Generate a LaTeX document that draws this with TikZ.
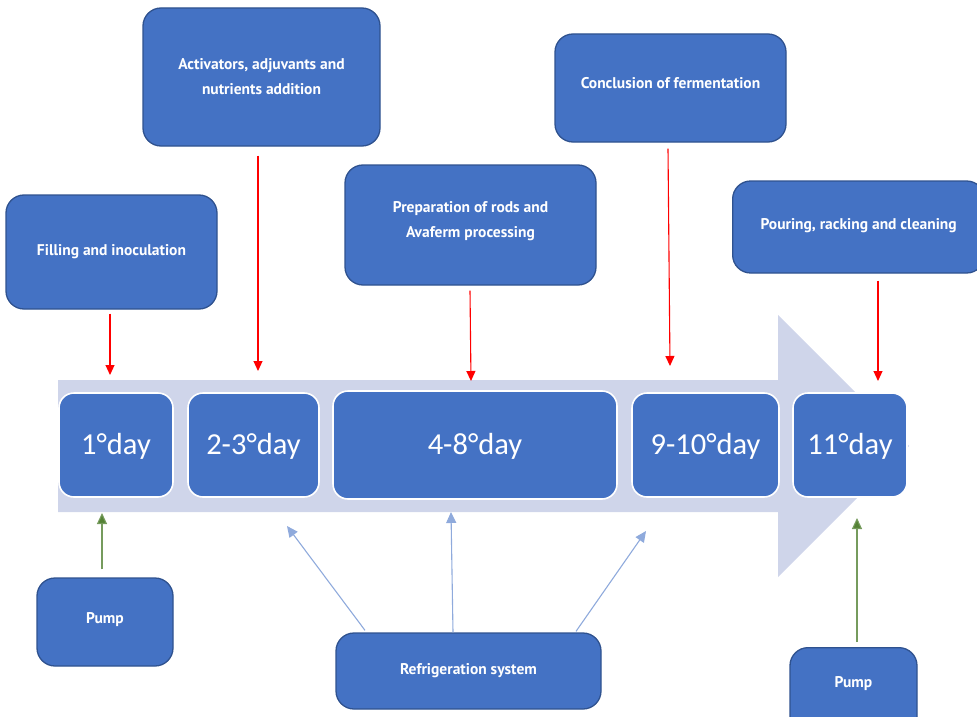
\documentclass[tikz,border=0pt]{standalone}
\usepackage{fontspec}
\setmainfont{PT Sans}
\newfontfamily\dayfont{Carlito}
\usetikzlibrary{arrows.meta,calc}

\definecolor{boxblue}{HTML}{4472C4}
\definecolor{boxedge}{HTML}{2F528F}
\definecolor{band}{HTML}{CFD5EA}
\definecolor{redline}{HTML}{FF0000}
\definecolor{greenline}{HTML}{548235}
\definecolor{blueline}{HTML}{8FAADC}

\tikzset{
  x=1pt, y=-1pt,
  taskbox/.style={draw=boxedge, line width=1.3pt, fill=boxblue, rounded corners=18pt,
    text=white, font=\bfseries\fontsize{15.5}{25}\selectfont, align=center, inner sep=0pt},
  daybox/.style={draw=white, line width=1.6pt, fill=boxblue, rounded corners=15pt,
    text=white, font=\dayfont\fontsize{30.5}{34}\selectfont, inner sep=0pt,
    text height=19.6pt, text depth=0pt},
  redarrow/.style={draw=redline, line width=1.1pt, -{Triangle[width=9pt,length=10pt]}},
  greenarrow/.style={draw=greenline!80, line width=1.1pt, -{Triangle[width=10pt,length=11pt,fill=greenline]}},
  bluearrow/.style={draw=blueline, line width=1.1pt, -{Triangle[width=10pt,length=11pt]}},
}

\begin{document}
\begin{tikzpicture}
\useasboundingbox (0,0) rectangle (977,717);

% timeline band with arrow head
\fill[band] (58,380) -- (778,380) -- (778,315) -- (909,446) -- (778,577)
  -- (778,512) -- (58,512) -- cycle;

% day boxes
\node[daybox, minimum width=114pt, minimum height=104pt] (d1)  at (116,445) {1°day};
\node[daybox, minimum width=131pt, minimum height=104pt] (d2)  at (253.5,445) {2-3°day};
\node[daybox, minimum width=284pt, minimum height=108pt] (d4)  at (475,445) {4-8°day};
\node[daybox, minimum width=147pt, minimum height=104pt] (d9)  at (705.5,445) {9-10°day};
\node[daybox, minimum width=114pt, minimum height=104pt] (d11) at (850,445) {11°day};

% activity boxes above the timeline
\node[taskbox, minimum width=211pt, minimum height=114pt] (fill) at (111.5,252)
  {\raisebox{4pt}{Filling and inoculation}};
\node[taskbox, minimum width=237pt, minimum height=138pt] (act) at (261.5,77)
  {Activators, adjuvants and\\nutrients addition};
\node[taskbox, minimum width=251pt, minimum height=120pt] (prep) at (470.5,225)
  {\raisebox{32pt}{\begin{tabular}{@{}c@{}}Preparation of rods and\\Avaferm processing\end{tabular}}};
\node[taskbox, minimum width=231pt, minimum height=108pt] (concl) at (670.5,88)
  {\raisebox{10pt}{Conclusion of fermentation}};
\node[taskbox, minimum width=252pt, minimum height=92pt, anchor=west] (pour) at (732,227)
  {\raisebox{7pt}{Pouring, racking and cleaning}};

% equipment boxes below the timeline
\node[taskbox, minimum width=136pt, minimum height=88pt] (pump1) at (105,622)
  {\raisebox{9pt}{Pump}};
\node[taskbox, minimum width=265pt, minimum height=76pt] (refr) at (468.5,671)
  {Refrigeration system};
\node[taskbox, minimum width=127pt, minimum height=90pt, anchor=north] (pump2) at (853.5,647)
  {\raisebox{21pt}{Pump}};

% arrow tips on the timeline
\coordinate (tFill)  at (110,375);
\coordinate (tAct)   at (258,371);
\coordinate (tPrep)  at (471,381);
\coordinate (tConcl) at (670,366);
\coordinate (tPour)  at (878,381);
\coordinate (tPumpA) at (102,513);
\coordinate (tPumpB) at (857,518);
\coordinate (tColdA) at (287,526);
\coordinate (tColdB) at (451,512);
\coordinate (tColdC) at (646,531);

% process steps into the timeline
\draw[redarrow] ([xshift=-1.5pt,yshift=-4pt]fill.south)   -- (tFill);
\draw[redarrow] ([xshift=-3.5pt,yshift=-9pt]act.south)    -- (tAct);
\draw[redarrow] ([xshift=-0.5pt,yshift=-5pt]prep.south)   -- (tPrep);
\draw[redarrow] ([xshift=-2.5pt,yshift=-6pt]concl.south)  -- (tConcl);
\draw[redarrow] (pour.south -| tPour) ++(0,7) -- (tPour);

% pumps
\draw[greenarrow] ([xshift=-3pt,yshift=8pt]pump1.north) -- (tPumpA);
\draw[greenarrow] ([xshift=3.5pt,yshift=5pt]pump2.north) -- (tPumpB);

% refrigeration feeds
\draw[bluearrow] ([xshift=-103.5pt,yshift=2pt]refr.north) -- (tColdA);
\draw[bluearrow] ([xshift=-15.5pt]refr.north) -- (tColdB);
\draw[bluearrow] ([xshift=107.5pt,yshift=1pt]refr.north) -- (tColdC);
\end{tikzpicture}
\end{document}
